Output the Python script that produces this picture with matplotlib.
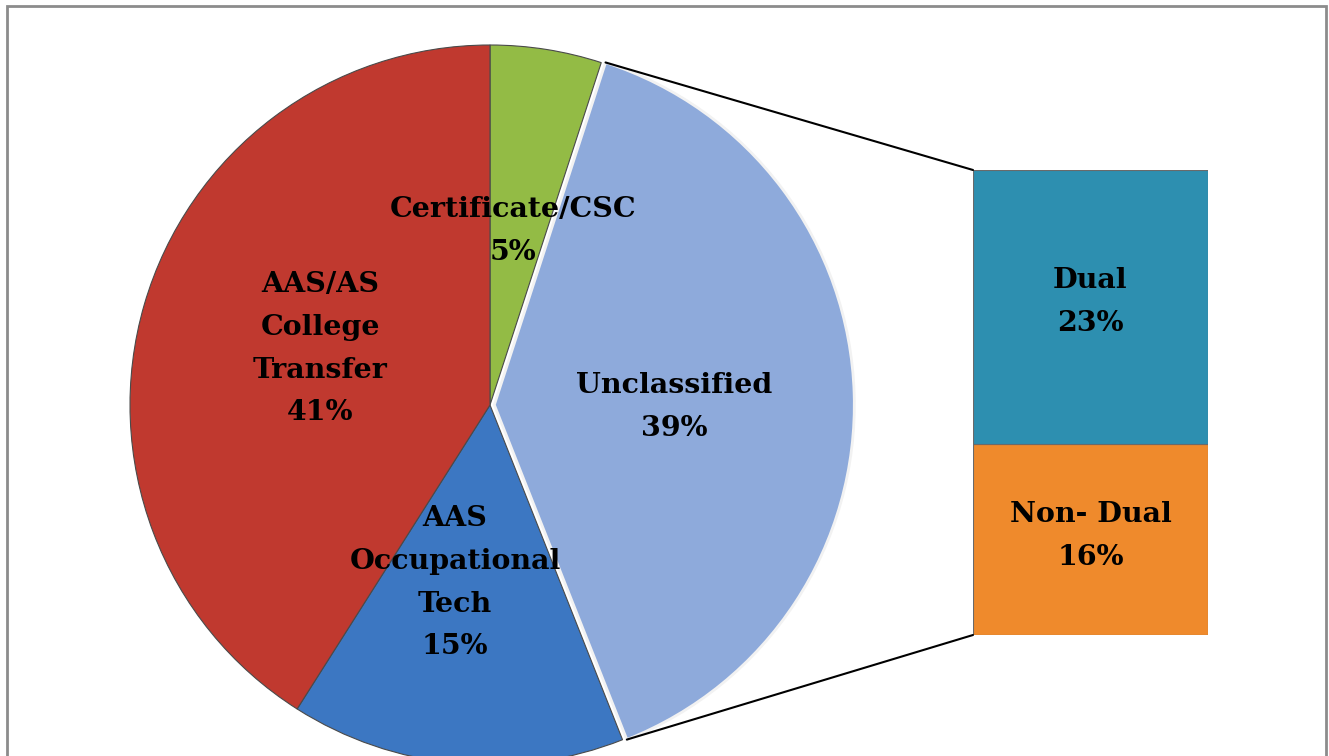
import numpy as np
import matplotlib.pyplot as plt
from matplotlib.patches import ConnectionPatch, Rectangle

# pie data
pie_labels = ['Certificate/CSC', 'Unclassified', 'AAS\nOccupational\nTech', 'AAS/AS\nCollege\nTransfer']
pie_vals = [5, 39, 15, 41]
pie_colors = ['#93bb45', '#8eaadb', '#3c77c2', '#c0392f']

# bar data (split of Unclassified)
bar_labels = ['Non- Dual', 'Dual']
bar_vals = [16, 23]
bar_colors = ['#ef8a2c', '#2d8fb0']

W, H = 1329, 756
fig = plt.figure(figsize=(W / 100, H / 100), dpi=100)
fig.patch.set_facecolor('white')

def px_ax(x0, y0, x1, y1):
    # axes from pixel box (top-left origin)
    return fig.add_axes([x0 / W, 1 - y1 / H, (x1 - x0) / W, (y1 - y0) / H])

ax = px_ax(130, 45, 850, 765)
wedges, _ = ax.pie(pie_vals, colors=pie_colors, startangle=90, counterclock=False,
                   explode=[0, 0.012, 0, 0],
                   wedgeprops=dict(edgecolor='#4a4a4a', linewidth=0.8))
wedges[1].set_edgecolor('#f2f2f2')
wedges[1].set_linewidth(2)
ax.set_xlim(-1, 1)
ax.set_ylim(-1, 1)
ax.axis('off')

font = dict(family='DejaVu Serif', fontweight='bold', fontsize=20.5, color='black',
            ha='center', va='center', linespacing=1.75)
label_pos = [(0.064, 0.483), (0.511, -0.006), (-0.097, -0.494), (-0.472, 0.156)]
for lab, v, (x, y) in zip(pie_labels, pie_vals, label_pos):
    ax.text(x, y, f'{lab}\n{v}%', **font)

# bar
bax = px_ax(973, 170, 1208, 635)
bottom = 0
for lab, v, c in zip(bar_labels, bar_vals, bar_colors):
    bax.bar(0, v, width=1, bottom=bottom, color=c, edgecolor='#6a6a6a', linewidth=0.8)
    bax.text(0, bottom + v * 0.52, f'{lab}\n{v}%', **font)
    bottom += v
bax.set_xlim(-0.5, 0.5)
bax.set_ylim(0, sum(bar_vals))
bax.axis('off')

# connector lines from Unclassified wedge to bar
w = wedges[1]
cx, cy = w.center
r = w.r
for ang, yb in [(w.theta2, sum(bar_vals)), (w.theta1, 0)]:
    x = r * np.cos(np.radians(ang)) + cx
    y = r * np.sin(np.radians(ang)) + cy
    con = ConnectionPatch(xyA=(-0.5, yb), coordsA=bax.transData,
                          xyB=(x, y), coordsB=ax.transData,
                          color='black', linewidth=1.5)
    fig.add_artist(con)

# frame
fig.patches.append(Rectangle((7 / W, -0.01), 1319 / W, 1 - 6 / H + 0.01,
                             transform=fig.transFigure, fill=False,
                             edgecolor='#8c8c8c', linewidth=2))

fig.savefig('out.png', dpi=100)
